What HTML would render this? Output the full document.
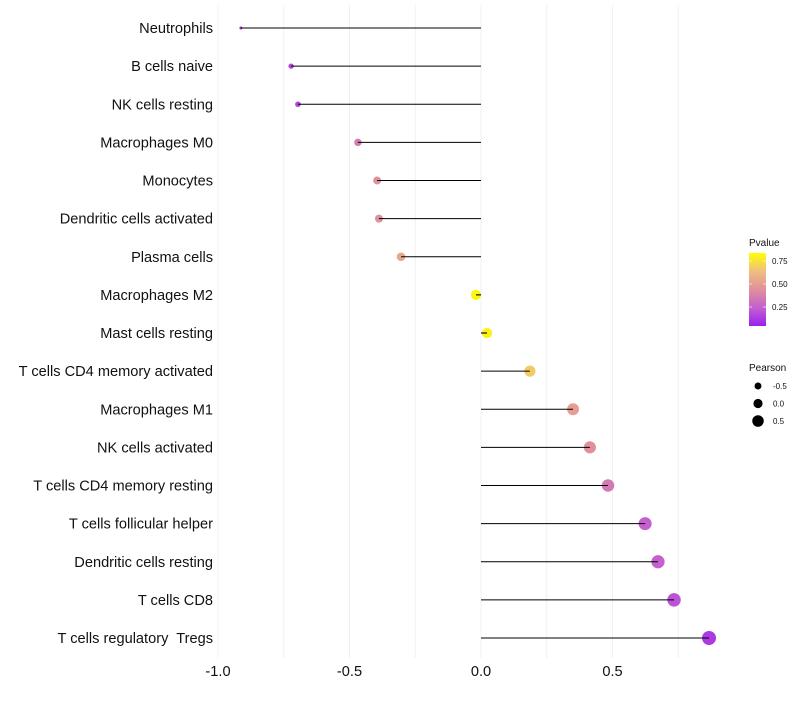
<!DOCTYPE html>
<html><head><meta charset="utf-8"><style>
body{margin:0;background:#fff;font-family:"Liberation Sans",sans-serif}
text{white-space:pre}
</style></head><body>
<svg id="c" width="800" height="700"></svg>
<script>
const categories=["Neutrophils","B cells naive","NK cells resting","Macrophages M0","Monocytes","Dendritic cells activated","Plasma cells","Macrophages M2","Mast cells resting","T cells CD4 memory activated","Macrophages M1","NK cells activated","T cells CD4 memory resting","T cells follicular helper","Dendritic cells resting","T cells CD8","T cells regulatory  Tregs"];
const pearson=[-0.913,-0.722,-0.696,-0.468,-0.395,-0.388,-0.304,-0.019,0.023,0.186,0.350,0.414,0.483,0.624,0.673,0.734,0.867];
const pvalue=[0.03,0.15,0.15,0.4,0.5,0.5,0.62,0.97,0.95,0.8,0.58,0.5,0.38,0.25,0.25,0.2,0.1];
const xTicks=[-1.0,-0.5,0.0,0.5];
const xTickLabels=["-1.0","-0.5","0.0","0.5"];
const gridVals=[-1,-0.75,-0.5,-0.25,0,0.25,0.5,0.75];
const pTicks=[0.25,0.5,0.75];
const sizeLegend=[-0.5,0,0.5];
const NS="http://www.w3.org/2000/svg";
const svg=document.getElementById('c');
function el(t,a,p){const e=document.createElementNS(NS,t);for(const k in a)e.setAttribute(k,a[k]);(p||svg).appendChild(e);return e;}
const X=v=>481+v*263;
const Y=i=>28+i*38.125;
const R=v=>Math.sqrt(Math.max(1.5,26.2+26.3*v));
const stops=[[0,[155,32,240]],[0.25,[196,96,208]],[0.5,[224,144,154]],[0.75,[240,190,128]],[1,[255,255,0]]];
function col(p){p=Math.max(0,Math.min(1,p));for(let i=1;i<stops.length;i++){if(p<=stops[i][0]){const a=stops[i-1],b=stops[i],t=(p-a[0])/(b[0]-a[0]);return 'rgb('+a[1].map((c,j)=>Math.round(c+(b[1][j]-c)*t)).join(',')+')';}}}
const PY=p=>330-p*92;
gridVals.forEach(v=>{const g=el('line',{x1:X(v),x2:X(v),y1:5,y2:658,stroke:'#f0f0f0','stroke-width':1});

});
categories.forEach((c,i)=>{
const t=el('text',{x:213,y:Y(i)+5,'text-anchor':'end','font-size':14.6,fill:'#111'});t.textContent=c;


const d=el('circle',{cx:X(pearson[i]),cy:Y(i),r:R(pearson[i]),fill:col(pvalue[i])});


const l=el('line',{x1:X(0),x2:X(pearson[i]),y1:Y(i),y2:Y(i),stroke:'#000','stroke-width':1.1});


});
xTicks.forEach((v,i)=>{const t=el('text',{x:X(v),y:676,'text-anchor':'middle','font-size':14.6,fill:'#111'});t.textContent=xTickLabels[i];

});
const lt=el('text',{x:749,y:246,'font-size':10,fill:'#111'});lt.textContent='Pvalue';


const defs=el('defs',{});const lg=el('linearGradient',{id:'pg',x1:0,y1:1,x2:0,y2:0},defs);
stops.forEach(s=>el('stop',{offset:s[0],'stop-color':'rgb('+s[1].join(',')+')'},lg));
const bar=el('rect',{x:749,y:253,width:17,height:73,fill:'url(#pg)'});


pTicks.forEach(p=>{el('line',{x1:749,x2:752,y1:PY(p),y2:PY(p),stroke:'#fff','stroke-opacity':0.6});el('line',{x1:763,x2:766,y1:PY(p),y2:PY(p),stroke:'#fff','stroke-opacity':0.6});
const t=el('text',{x:772,y:PY(p)+3,'font-size':8,fill:'#111'});t.textContent=p.toFixed(2);

});
const st=el('text',{x:749,y:371,'font-size':10,fill:'#111'});st.textContent='Pearson';


sizeLegend.forEach((v,i)=>{const y=386+i*17.5;
const c=el('circle',{cx:758,cy:y,r:4.6+2.3*v,fill:'#000'});


const t=el('text',{x:773,y:y+3,'font-size':8,fill:'#111'});t.textContent=v===0?'0.0':String(v);

});
</script>
</body></html>
